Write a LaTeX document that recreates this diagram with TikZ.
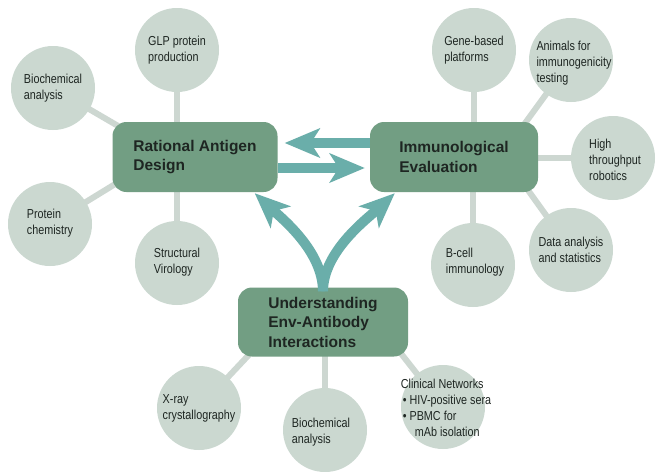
\documentclass[tikz,border=0pt]{standalone}
\usepackage{fontspec}
\setmainfont{Liberation Sans}
\newfontfamily\bubblefont[FakeStretch=0.83]{Liberation Sans}
\usetikzlibrary{arrows.meta,backgrounds}
\definecolor{boxgreen}{HTML}{729E83}
\definecolor{bubblegray}{HTML}{CBD8D0}
\definecolor{linkgray}{HTML}{CDD7D1}
\definecolor{arrowteal}{HTML}{6AAEAA}
\definecolor{txt}{HTML}{1E2622}
\begin{document}
\begin{tikzpicture}[x=1pt,y=-1pt,
  mainbox/.style={fill=boxgreen, rounded corners=14pt, minimum width=#1, minimum height=70pt, inner sep=0pt, align=left, font=\fontsize{15.5}{19.5}\selectfont\bfseries, text=txt},
  bubble/.style={circle, fill=bubblegray, minimum size=84pt, inner sep=0pt},
  btext/.style={align=left, font=\bubblefont\fontsize{13}{16}\selectfont, text=txt, inner sep=0pt},
  link/.style={draw=linkgray, line width=6pt},
  bigarrow/.style={draw=arrowteal, line width=10pt, -{Stealth[length=35pt,width=29pt,inset=9pt]}},
]
\useasboundingbox (0,0) rectangle (661,471);

% bubbles
\node[bubble] (bioTL) at (53,88) {};
\node[btext] (bioTLt) at (bioTL) {Biochemical\\analysis};
\node[bubble] (glp) at (177,50) {};
\node[btext] (glpt) at (glp) {GLP protein\\production};
\node[bubble] (prot) at (50,224) {};
\node[btext] (prott) at ([yshift=1pt]prot) {Protein\\chemistry};
\node[bubble] (struct) at (177,263) {};
\node[btext] (structt) at ([yshift=1pt]struct) {Structural\\Virology};
\node[bubble] (gene) at (474,50) {};
\node[btext] (genet) at (gene) {Gene-based\\platforms};
\node[bubble] (anim) at (571,60) {};
\node[btext] (animt) at ([xshift=3pt,yshift=-3pt]anim) {Animals for\\immunogenicity\\testing};
\node[bubble] (high) at (613,158) {};
\node[btext] (hight) at ([xshift=2pt,yshift=-2pt]high) {High\\throughput\\robotics};
\node[bubble] (data) at (571,250) {};
\node[btext] (datat) at (data) {Data analysis\\and statistics};
\node[bubble] (bcell) at (473,265) {};
\node[btext] (bcellt) at ([xshift=2pt,yshift=3pt]bcell) {B-cell\\immunology};
\node[bubble] (xray) at (199,408) {};
\node[btext] (xrayt) at (xray) {X-ray\\crystallography};
\node[bubble] (bioB) at (325,430) {};
\node[btext] (bioBt) at ([xshift=-4pt,yshift=-2pt]bioB) {Biochemical\\analysis};
\node[bubble] (clin) at (443,407) {};
\node[btext] (clint) at ([xshift=3pt,yshift=-1pt]clin) {Clinical Networks\\\hspace*{2pt}\textbullet\ HIV-positive sera\\\hspace*{2pt}\textbullet\ PBMC for\\\hspace*{14pt}mAb isolation};

% main boxes
\node[mainbox=165pt] (rad) at (195,157) {Rational Antigen\\Design};
\node[mainbox=168pt] (ie) at (454,157) {Immunological\\Evaluation};
\node[mainbox=170pt, minimum height=69pt] (ue) at (323,322) {Understanding\\Env-Antibody\\Interactions};

% connector ends inside boxes
\coordinate (bioTLend) at (125,130);
\coordinate (protend) at (125,178);
\coordinate (animend) at (515,137);
\coordinate (dataend) at (520,179);
\coordinate (xrayend) at (260,343);
\coordinate (clinend) at (392,342);

\begin{scope}[on background layer]
\fill[white] (0,0) rectangle (661,471);
\draw[link] (glp.center) -- (glp.center |- rad.center);
\draw[link] (struct.center) -- (struct.center |- rad.center);
\draw[link] (bioTL.center) -- (bioTLend);
\draw[link] (prot.center) -- (protend);
\draw[link] (gene.center) -- (gene.center |- ie.center);
\draw[link] (bcell.center) -- (bcell.center |- ie.center);
\draw[link] (high.center) -- (high.center -| ie.center);
\draw[link] (anim.center) -- (animend);
\draw[link] (data.center) -- (dataend);
\draw[link] (bioB.center) -- (bioB.center |- ue.center);
\draw[link] (xray.center) -- (xrayend);
\draw[link] (clin.center) -- (clinend);
\end{scope}

% arrows
\draw[bigarrow, shorten >=7pt] ([yshift=14pt]ie.west) -- ([yshift=14pt]rad.east);
\draw[bigarrow, shorten >=5pt] ([yshift=-11pt]rad.east) -- ([yshift=-11pt]ie.west);
\coordinate (ubase) at ([yshift=-4pt]ue.north);
\draw[bigarrow] (ubase) .. controls +(0,-40) and +(27,25) .. ([xshift=-23pt,yshift=-1pt]rad.south east);
\draw[bigarrow] (ubase) .. controls +(0,-40) and +(-27,25) .. ([xshift=25pt,yshift=-1pt]ie.south west);
\end{tikzpicture}
\end{document}
